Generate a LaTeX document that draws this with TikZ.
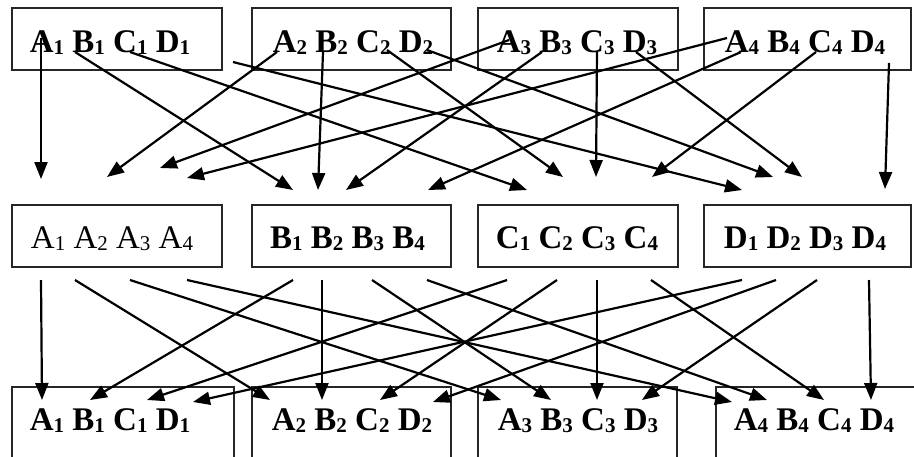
\documentclass[tikz,border=0pt]{standalone}
\usepackage{fontspec}
\setmainfont{Liberation Serif}
\usetikzlibrary{arrows.meta}
\newcommand\sbd[1]{\raisebox{-2pt}{\fontsize{21}{21}\selectfont #1}}
\begin{document}
\begin{tikzpicture}[x=1pt,y=-1pt,
  box/.style={draw=black!85,line width=1.2pt,inner sep=0pt},
  lab/.style={inner sep=0pt,anchor=base,font=\fontsize{33}{33}\selectfont\bfseries},
  labr/.style={inner sep=0pt,anchor=base,font=\fontsize{33}{33}\selectfont},
  arr/.style={line width=2.2pt,-{Triangle[length=17pt,width=13pt]}}]
\clip (0,0) rectangle (914,456);
\fill[white] (0,0) rectangle (914,456);
% top boxes
\node[box,minimum width=210pt,minimum height=62pt] (T1) at (117,39) {};
\node[box,minimum width=199pt,minimum height=62pt] (T2) at (351.5,39) {};
\node[box,minimum width=200pt,minimum height=62pt] (T3) at (578,39) {};
\node[box,minimum width=207pt,minimum height=62pt] (T4) at (807.5,39) {};
% middle boxes
\node[box,minimum width=210pt,minimum height=62pt] (M1) at (117,236) {};
\node[box,minimum width=199pt,minimum height=62pt] (M2) at (351.5,236) {};
\node[box,minimum width=200pt,minimum height=62pt] (M3) at (578,236) {};
\node[box,minimum width=207pt,minimum height=62pt] (M4) at (807.5,236) {};
% bottom boxes
\node[box,minimum width=222pt,minimum height=83pt] (B1) at (123,428.5) {};
\node[box,minimum width=199pt,minimum height=83pt] (B2) at (351.5,428.5) {};
\node[box,minimum width=199pt,minimum height=83pt] (B3) at (577.5,428.5) {};
\node[box,minimum width=214pt,minimum height=83pt] (B4) at (823,428.5) {};
% labels
\node[lab] (LT1) at (110,52) {A\sbd{1} B\sbd{1} C\sbd{1} D\sbd{1}};
\node[lab] (LT2) at (353,52) {A\sbd{2} B\sbd{2} C\sbd{2} D\sbd{2}};
\node[lab] (LT3) at (577,52) {A\sbd{3} B\sbd{3} C\sbd{3} D\sbd{3}};
\node[lab] (LT4) at (805,52) {A\sbd{4} B\sbd{4} C\sbd{4} D\sbd{4}};
\node[labr] (LM1) at (112,248) {A\sbd{1} A\sbd{2} A\sbd{3} A\sbd{4}};
\node[lab] (LM2) at (347.5,248) {B\sbd{1} B\sbd{2} B\sbd{3} B\sbd{4}};
\node[lab] (LM3) at (577,248) {C\sbd{1} C\sbd{2} C\sbd{3} C\sbd{4}};
\node[lab] (LM4) at (805,248) {D\sbd{1} D\sbd{2} D\sbd{3} D\sbd{4}};
\node[lab] (LB1) at (110,430) {A\sbd{1} B\sbd{1} C\sbd{1} D\sbd{1}};
\node[lab] (LB2) at (352,430) {A\sbd{2} B\sbd{2} C\sbd{2} D\sbd{2}};
\node[lab] (LB3) at (578,430) {A\sbd{3} B\sbd{3} C\sbd{3} D\sbd{3}};
\node[lab] (LB4) at (814,430) {A\sbd{4} B\sbd{4} C\sbd{4} D\sbd{4}};
% top -> middle arrows
\foreach \n/\sx/\sy/\ex/\ey in {
  ta1/41/38/41/179, ta2/277/52/107/177, ta3/509/40/160/168, ta4/727/38/187/178,
  tb1/75/52/293/190, tb2/323/52/318/190, tb3/542/52/346/190, tb4/741/52/428/190,
  tc1/130/52/527/190, tc2/387/50/563/177, tc3/597/52/596/177, tc4/816/52/652/177,
  td1/233/62/742/190, td2/427/50/773/177, td3/636/52/802/177, td4/889/63/885/189}
{
  \coordinate (s\n) at (\sx,\sy);
  \coordinate (e\n) at (\ex,\ey);
  \draw[arr] (s\n) -- (e\n);
}
% middle -> bottom arrows
\foreach \n/\sx/\sy/\ex/\ey in {
  ma1/41/280/42/400, ma2/75/280/270/400, ma3/130/280/501/400, ma4/187/280/732/402,
  mb1/293/280/90/400, mb2/322/280/322/400, mb3/372/280/551/400, mb4/427/280/767/400,
  mc1/507/280/147/400, mc2/557/280/380/400, mc3/597/280/597/400, mc4/651/280/824/400,
  md1/742/280/193/402, md2/776/280/433/402, md3/817/280/642/400, md4/869/280/871/400}
{
  \coordinate (s\n) at (\sx,\sy);
  \coordinate (e\n) at (\ex,\ey);
  \draw[arr] (s\n) -- (e\n);
}
\end{tikzpicture}
\end{document}
